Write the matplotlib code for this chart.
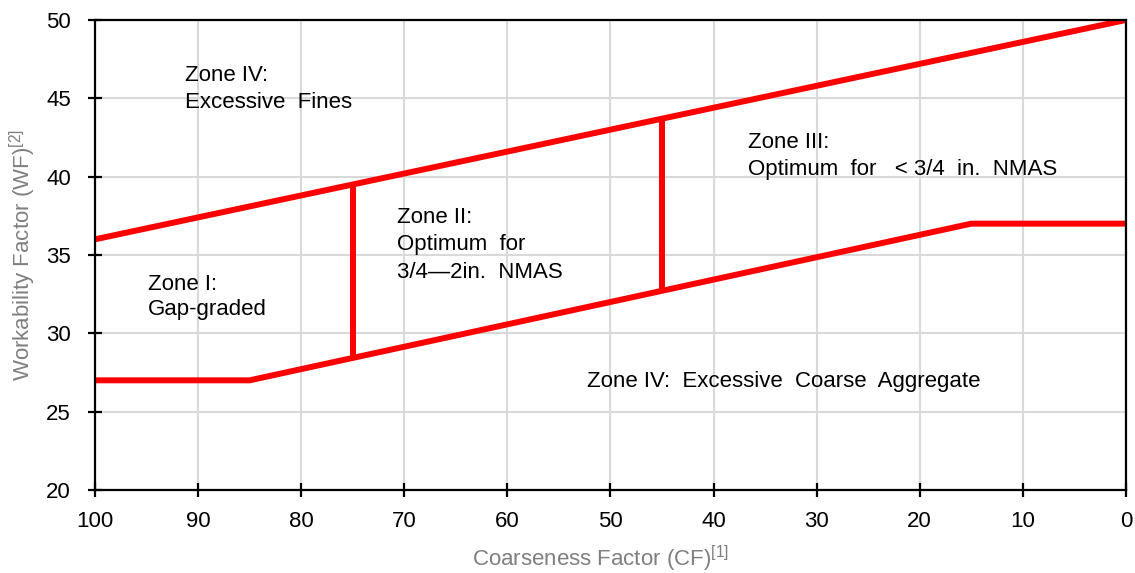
import matplotlib
matplotlib.use("Agg")
import matplotlib.pyplot as plt

plt.rcParams['font.family'] = ['Liberation Sans', 'DejaVu Sans']
plt.rcParams['mathtext.fontset'] = 'custom'
plt.rcParams['mathtext.rm'] = 'Liberation Sans'
plt.rcParams['mathtext.default'] = 'regular'

# boundary lines of the chart (CF, WF)
upper_cf = [100, 0]
upper_wf = [36, 50]
lower_cf = [100, 85, 15, 0]
lower_wf = [27, 27, 37, 37]
div1_cf = [75, 75]
div1_wf = [28.43, 39.5]
div2_cf = [45, 45]
div2_wf = [32.71, 43.7]

# zone labels, one entry per text line
zone_lines = ["Zone IV:", "Excessive  Fines",
              "Zone I:", "Gap-graded",
              "Zone II:", "Optimum  for", "3/4\u20142in.  NMAS",
              "Zone III:", "Optimum  for   < 3/4  in.  NMAS",
              "Zone IV:  Excessive  Coarse  Aggregate"]
zone_x = [91.3, 91.3, 94.9, 94.9, 70.7, 70.7, 70.7, 36.7, 36.7, 52.3]
zone_y = [46.11, 44.38, 32.77, 31.17, 37.04, 35.32, 33.53, 41.83, 40.11, 26.57]

xticks = [100, 90, 80, 70, 60, 50, 40, 30, 20, 10, 0]
yticks = [20, 25, 30, 35, 40, 45, 50]

fig = plt.figure(figsize=(11.35, 5.73), dpi=100)
ax = fig.add_axes([0.0837, 0.1449, 0.9083, 0.8202])

ax.plot(upper_cf, upper_wf, color='#ff0000', lw=4.3, solid_capstyle='butt')
ax.plot(lower_cf, lower_wf, color='#ff0000', lw=4.3, solid_capstyle='butt')
ax.plot(div1_cf, div1_wf, color='#ff0000', lw=4.3, solid_capstyle='butt')
ax.plot(div2_cf, div2_wf, color='#ff0000', lw=4.3, solid_capstyle='butt')

for t, x, y in zip(zone_lines, zone_x, zone_y):
    ax.text(x, y, t, fontsize=16, ha='left', va='baseline', color='black')

ax.set_xlim(100, 0)
ax.set_ylim(20, 50)
ax.set_xticks(xticks)
ax.set_yticks(yticks)
ax.grid(True, color='#d9d9d9', lw=1.5)
ax.set_axisbelow(True)
for s in ax.spines.values():
    s.set_linewidth(1.6)
ax.tick_params(direction='inout', length=10.5, width=1.6, labelsize=16)
ax.tick_params(axis='x', pad=10)
ax.tick_params(axis='y', pad=12)

ax.set_xlabel(r'Coarseness Factor (CF)$^{[1]}$', fontsize=16, color='#7f7f7f')
ax.set_ylabel(r'Workability Factor (WF)$^{[2]}$', fontsize=16, color='#7f7f7f')
ax.xaxis.set_label_coords(0.49, -0.115)
ax.yaxis.set_label_coords(-0.055, 0.5)

fig.savefig('out.png', dpi=100)
